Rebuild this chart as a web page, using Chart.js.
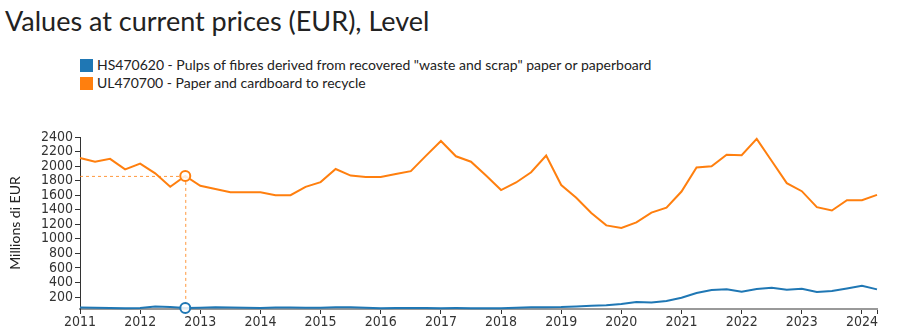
<!DOCTYPE html>
<html>
<head>
<meta charset="utf-8">
<script src="https://cdn.jsdelivr.net/npm/chart.js@4.4.1/dist/chart.umd.min.js"></script>
<style>
    body { margin: 0; background: #fff; }
    #wrap { position: relative; width: 898px; height: 334px; overflow: hidden; }
    #title {
        position: absolute; left: 5px; top: 4px;
        font-family: Lato, sans-serif; font-size: 27px; color: #222;
        white-space: nowrap;
    }
    #legend {
        position: absolute; left: 80px; top: 56px;
        font-family: Lato, sans-serif; font-size: 14px; color: #222;
    }
    .item { height: 18px; line-height: 18px; white-space: nowrap; }
    .sw { display: inline-block; width: 13px; height: 13px; margin-right: 4px; vertical-align: -2px; }
    canvas { position: absolute; left: 0; top: 0; }
</style>
</head>
<body>
<div id="wrap">
    <div id="title">Values at current prices (EUR), Level</div>
    <div id="legend"></div>
    <canvas id="chart" width="898" height="334"></canvas>
</div>
<script>
// quarterly series, 2011 Q1 .. 2024 Q2
const years = [2011, 2012, 2013, 2014, 2015, 2016, 2017, 2018, 2019, 2020, 2021, 2022, 2023, 2024];
const quarters = [];
years.forEach(y => [1, 2, 3, 4].forEach(q => quarters.push(y + '-Q' + q)));
quarters.length = 54;

const seriesNames = [
    'HS470620 - Pulps of fibres derived from recovered "waste and scrap" paper or paperboard',
    'UL470700 - Paper and cardboard to recycle'
];
const seriesColors = ['#1f77b4', '#ff7f0e'];

const pulpValues = [
    55, 52, 48, 45,
    50, 70, 62, 48,
    52, 60, 57, 52,
    50, 55, 57, 52,
    52, 58, 58, 52,
    47, 48, 50, 48,
    47, 48, 47, 45,
    44, 52, 58, 60,
    62, 70, 80, 85,
    104, 130, 126, 145,
    190, 255, 295, 305,
    272, 310, 328, 300,
    313, 270, 283, 318,
    355, 305
];

const paperValues = [
    2110, 2060, 2100, 1955,
    2035, 1900, 1715, 1865,
    1730, 1685, 1640, 1640,
    1640, 1600, 1600, 1715,
    1780, 1960, 1870, 1850,
    1850, 1890, 1930, 2140,
    2345, 2135, 2060, 1870,
    1670, 1775, 1915, 2145,
    1740, 1565, 1355, 1185,
    1148, 1225, 1360, 1428,
    1650, 1980, 1998, 2155,
    2150, 2375, 2070, 1765,
    1655, 1435, 1390, 1532,
    1532, 1605
];

const yTicks = [200, 400, 600, 800, 1000, 1200, 1400, 1600, 1800, 2000, 2200, 2400];
const highlighted = quarters.indexOf('2012-Q4');

// "2012-Q4" -> 2012.75
function toYear(label) {
    const parts = label.split('-Q');
    return Number(parts[0]) + (Number(parts[1]) - 1) / 4;
}

function toPoints(values) {
    return values.map((v, i) => ({ x: toYear(quarters[i]), y: v }));
}

const xMin = toYear(quarters[0]);
const xMax = toYear(quarters[quarters.length - 1]);

const legend = document.getElementById('legend');
seriesNames.forEach((name, i) => {
    const row = document.createElement('div');
    row.className = 'item';
    const sw = document.createElement('span');
    sw.className = 'sw';
    sw.style.background = seriesColors[i];
    row.appendChild(sw);
    row.appendChild(document.createTextNode(name));
    legend.appendChild(row);
});

// dashed guide lines to the highlighted quarter
const guideLines = {
    id: 'guideLines',
    beforeDatasetsDraw(chart) {
        const top = chart.getDatasetMeta(1).data[highlighted];
        const bottom = chart.getDatasetMeta(0).data[highlighted];
        if (!top || !bottom) return;
        const ctx = chart.ctx;
        ctx.save();
        ctx.strokeStyle = 'rgba(255, 127, 14, 0.8)';
        ctx.lineWidth = 1;
        ctx.setLineDash([3, 3]);
        ctx.beginPath();
        ctx.moveTo(chart.chartArea.left, top.y + 0.5);
        ctx.lineTo(top.x, top.y + 0.5);
        ctx.moveTo(top.x + 0.5, top.y);
        ctx.lineTo(top.x + 0.5, bottom.y);
        ctx.stroke();
        ctx.restore();
    }
};

const tickFont = { family: '"Liberation Sans Narrow", "DejaVu Sans Condensed", sans-serif', size: 14 };

function makeDataset(label, values, color) {
    return {
        label: label,
        data: toPoints(values),
        borderColor: color,
        backgroundColor: color,
        borderWidth: 2,
        tension: 0,
        clip: false,
        pointRadius: ctx => ctx.dataIndex === highlighted ? 5 : 0,
        pointHoverRadius: 0,
        pointBorderWidth: 2,
        pointBorderColor: color,
        pointBackgroundColor: 'rgba(255, 255, 255, 0.85)'
    };
}

new Chart(document.getElementById('chart'), {
    type: 'line',
    data: {
        datasets: [
            makeDataset(seriesNames[0], pulpValues, seriesColors[0]),
            makeDataset(seriesNames[1], paperValues, seriesColors[1])
        ]
    },
    plugins: [guideLines],
    options: {
        responsive: false,
        animation: false,
        events: [],
        layout: { padding: { left: 0, right: 21, top: 137, bottom: 0 } },
        plugins: {
            legend: { display: false },
            title: { display: false },
            tooltip: { enabled: false }
        },
        scales: {
            x: {
                type: 'linear',
                min: xMin,
                max: xMax,
                afterBuildTicks: scale => {
                    scale.ticks = years.map(y => ({ value: y })).concat([{ value: xMax }]);
                },
                afterFit: scale => { scale.height = 25; },
                border: { color: '#999', width: 2 },
                grid: { drawOnChartArea: false, drawTicks: true, tickLength: 5, color: '#333' },
                ticks: {
                    autoSkip: false,
                    maxRotation: 0,
                    padding: 0,
                    color: '#333',
                    font: tickFont,
                    callback: v => years.includes(v) ? String(v) : ''
                }
            },
            y: {
                min: 35,
                max: yTicks[yTicks.length - 1],
                afterBuildTicks: scale => {
                    scale.ticks = yTicks.map(v => ({ value: v }));
                },
                afterFit: scale => { scale.width = 80; },
                border: { color: '#333', width: 1 },
                grid: { drawOnChartArea: false, drawTicks: true, tickLength: 5, color: '#333' },
                title: {
                    display: true,
                    text: 'Millions di EUR',
                    color: '#222',
                    font: { family: 'Lato, sans-serif', size: 14 },
                    padding: { top: 7, bottom: 0 }
                },
                ticks: {
                    autoSkip: false,
                    padding: 2,
                    color: '#333',
                    font: tickFont,
                    callback: v => String(v)
                }
            }
        }
    }
});
</script>
</body>
</html>
